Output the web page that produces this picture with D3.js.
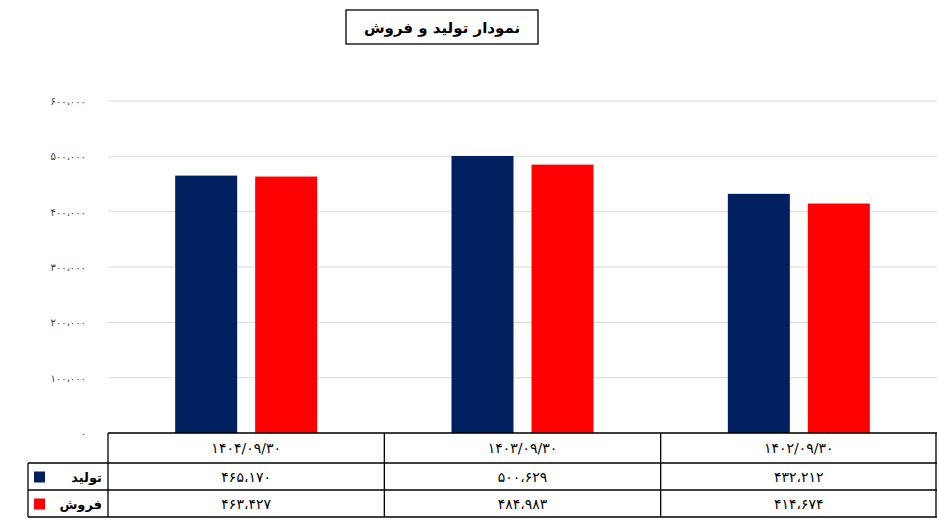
<!DOCTYPE html>
<html><head><meta charset="utf-8">
<script src="https://cdn.jsdelivr.net/npm/d3@7"></script>
<style>body{margin:0;background:#fff}text{font-family:"DejaVu Sans",sans-serif}</style>
</head><body>
<svg id="c" width="937" height="525"></svg>
<script>
var categories = ["۱۴۰۴/۰۹/۳۰", "۱۴۰۳/۰۹/۳۰", "۱۴۰۲/۰۹/۳۰"];
var production = [465170, 500629, 432212];
var sales = [463427, 484983, 414674];
var seriesNames = ["تولید", "فروش"];
var colors = ["#002060", "#ff0000"];
var ticks = [0, 100000, 200000, 300000, 400000, 500000, 600000];

var svg = d3.select("#c");
var plotLeft = 108, plotRight = 937, plotTop = 101, plotBottom = 433;

// persian digits with arabic comma separator
function fa(n){
    var s = d3.format(",")(n).replace(/,/g, "،");
    return s.replace(/\d/g, d => "۰۱۲۳۴۵۶۷۸۹"[+d]);
}

var x = d3.scaleBand().domain(categories).range([plotLeft, plotRight]);
var y = d3.scaleLinear().domain([0, 600000]).range([plotBottom, plotTop]);

// grid
svg.append("g").selectAll("line").data(ticks).enter().append("line")
    .attr("x1", plotLeft).attr("x2", plotRight)
    .attr("y1", d => y(d)).attr("y2", d => y(d))
    .attr("stroke", "#d9d9d9").attr("stroke-width", 1);

svg.append("g").selectAll("text").data(ticks).enter().append("text")
    .attr("x", 86).attr("y", d => y(d) + 4)
    .attr("text-anchor", "end").attr("font-size", 10).attr("fill", "#404040")
    .text(d => fa(d));

// bars
var bw = 62, gap = 18;
var series = [production, sales];
series.forEach(function(vals, si){
    svg.append("g").selectAll("rect").data(vals).enter().append("rect")
        .attr("x", (d, i) => x(categories[i]) + x.bandwidth()/2 + (si == 0 ? -gap/2 - bw : gap/2))
        .attr("y", d => y(d))
        .attr("width", bw)
        .attr("height", d => plotBottom - y(d))
        .attr("fill", colors[si]);
});

// data table
var rowH = [433, 463, 490, 517];
var t = svg.append("g").attr("stroke", "#000").attr("stroke-width", 1.3);
t.append("line").attr("x1", plotLeft).attr("x2", plotRight).attr("y1", rowH[0]).attr("y2", rowH[0]);
[1, 2, 3].forEach(r => t.append("line").attr("x1", 28).attr("x2", plotRight).attr("y1", rowH[r]).attr("y2", rowH[r]));
t.append("line").attr("x1", 28).attr("x2", 28).attr("y1", rowH[1]).attr("y2", rowH[3]);
[plotLeft, plotLeft + x.bandwidth(), plotLeft + 2*x.bandwidth(), plotRight - 1].forEach(v =>
    t.append("line").attr("x1", v).attr("x2", v).attr("y1", rowH[0]).attr("y2", rowH[3]));

svg.append("g").selectAll("text").data(categories).enter().append("text")
    .attr("x", d => x(d) + x.bandwidth()/2).attr("y", 453)
    .attr("text-anchor", "middle").attr("font-size", 14).text(d => d);

series.forEach(function(vals, si){
    var cy = (rowH[si+1] + rowH[si+2]) / 2;
    svg.append("g").selectAll("text").data(vals).enter().append("text")
        .attr("x", (d, i) => x(categories[i]) + x.bandwidth()/2).attr("y", cy + 5)
        .attr("text-anchor", "middle").attr("font-size", 14).text(d => fa(d));
    svg.append("rect").attr("x", 34).attr("y", cy - 5).attr("width", 11).attr("height", 11).attr("fill", colors[si]);
    svg.append("text").attr("x", 102).attr("y", cy + 5).attr("text-anchor", "end")
        .attr("font-size", 13).attr("font-weight", "bold").text(seriesNames[si]);
});

// title
svg.append("rect").attr("x", 346).attr("y", 10).attr("width", 192).attr("height", 34)
    .attr("fill", "#fff").attr("stroke", "#000").attr("stroke-width", 1.3);
svg.append("text").attr("x", 442).attr("y", 33).attr("text-anchor", "middle")
    .attr("font-size", 15).attr("font-weight", "bold").text("نمودار تولید و فروش");
</script>
</body></html>
